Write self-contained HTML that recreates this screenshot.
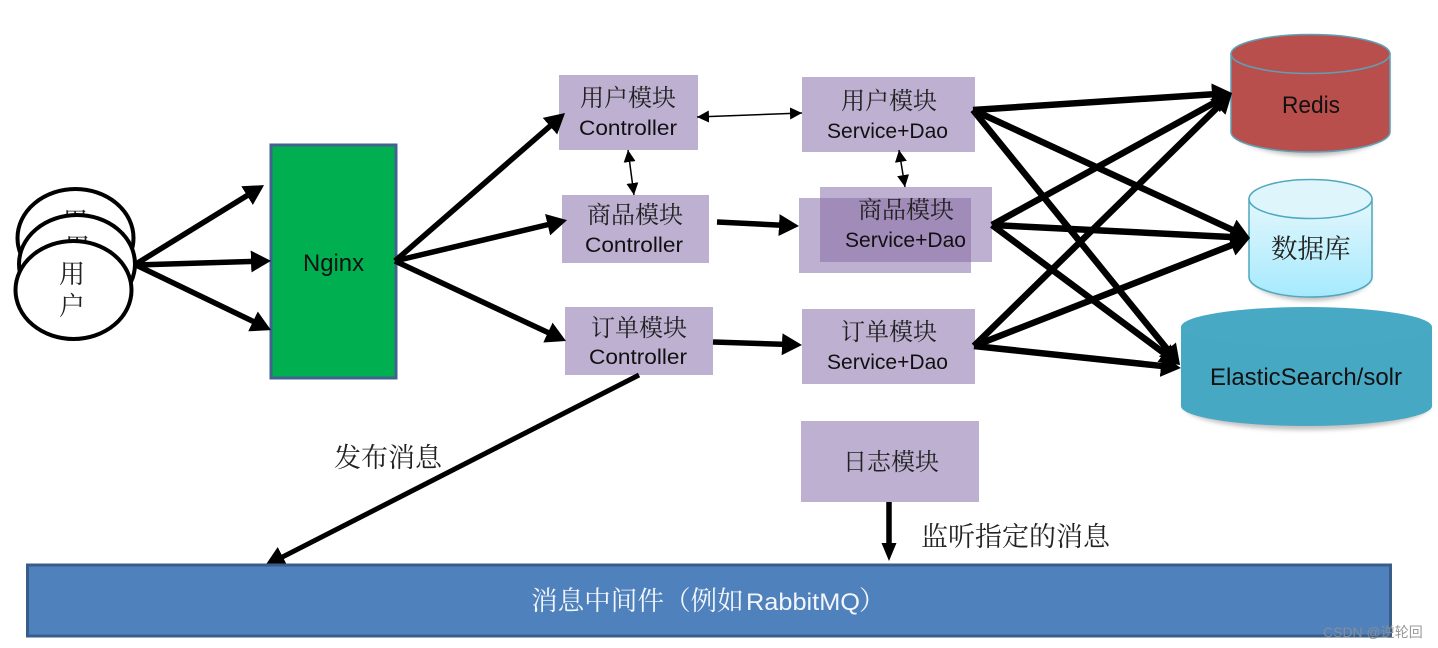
<!DOCTYPE html>
<html lang="zh"><head><meta charset="utf-8"><title>架构图</title>
<style>
html,body{margin:0;padding:0;background:#fff;width:1438px;height:648px;overflow:hidden}
svg{display:block}
.cn{font-family:"Liberation Serif","Noto Serif CJK SC",serif;fill:#222}
.la{font-family:"Liberation Sans",sans-serif;fill:#111}
</style></head><body>
<svg xmlns="http://www.w3.org/2000/svg" width="1438" height="648" viewBox="0 0 1438 648">
<defs>
<marker id="h" markerUnits="userSpaceOnUse" markerWidth="24" markerHeight="26" refX="3" refY="13" orient="auto"><path d="M0,2 L20,13 L0,24 z" fill="#000"/></marker>
<marker id="n" markerUnits="userSpaceOnUse" markerWidth="20" markerHeight="20" refX="1" refY="10" orient="auto"><path d="M0,2.500 L18,10 L0,17.500 z" fill="#000"/></marker>
<marker id="t" markerUnits="userSpaceOnUse" markerWidth="14" markerHeight="14" refX="12" refY="7" orient="auto-start-reverse"><path d="M0,1 L12,7 L0,13 z" fill="#000"/></marker>
<linearGradient id="db" x1="0" y1="0" x2="0" y2="1"><stop offset="0" stop-color="#e3f7fd"/><stop offset="1" stop-color="#a6eafd"/></linearGradient>
<filter id="s" x="-5%" y="-5%" width="110%" height="115%"><feGaussianBlur stdDeviation="2"/></filter>
</defs>

<!-- users -->
<g stroke="#000" stroke-width="4" fill="#fff">
<ellipse cx="75.500" cy="238" rx="58" ry="49"/>
<text x="62" y="231" class="cn" font-size="26" stroke="none">用</text>
<ellipse cx="77" cy="264" rx="58" ry="49"/>
<text x="64" y="257" class="cn" font-size="26" stroke="none">用</text>
<ellipse cx="73.500" cy="290" rx="58" ry="49"/>
</g>
<text x="59" y="283" class="cn" font-size="26">用</text>
<text x="59" y="315" class="cn" font-size="26">户</text>

<!-- nginx -->
<rect x="271" y="145" width="125" height="233" fill="#00b050" stroke="#41638f" stroke-width="3"/>
<text x="303" y="271" class="la" font-size="24" textLength="61" lengthAdjust="spacingAndGlyphs">Nginx</text>

<!-- boxes -->
<g fill="#bdb0d1">
<rect x="559" y="75" width="139" height="75"/>
<rect x="562" y="195" width="147" height="68"/>
<rect x="565" y="307" width="148" height="68"/>
<rect x="802" y="77" width="173" height="75"/>
<rect x="799" y="198" width="172" height="75"/>
<rect x="820" y="187" width="172" height="75"/>
<rect x="802" y="309" width="173" height="75"/>
<rect x="801" y="421" width="178" height="81"/>
</g>
<rect x="820" y="198" width="151" height="64" fill="#a18bb9"/>

<g class="cn" font-size="24">
<text x="580" y="106" class="cn">用户模块</text>
<text x="587" y="223" class="cn">商品模块</text>
<text x="591" y="336" class="cn">订单模块</text>
<text x="841" y="109" class="cn">用户模块</text>
<text x="858" y="218" class="cn">商品模块</text>
<text x="841" y="340" class="cn">订单模块</text>
<text x="843" y="470" class="cn">日志模块</text>
</g>
<g class="la" font-size="21">
<text x="579" y="135" class="la" textLength="98" lengthAdjust="spacingAndGlyphs">Controller</text>
<text x="585" y="252" class="la" textLength="98" lengthAdjust="spacingAndGlyphs">Controller</text>
<text x="589" y="364" class="la" textLength="98" lengthAdjust="spacingAndGlyphs">Controller</text>
<text x="827" y="138" class="la" textLength="121" lengthAdjust="spacingAndGlyphs">Service+Dao</text>
<text x="845" y="247" class="la" textLength="121" lengthAdjust="spacingAndGlyphs">Service+Dao</text>
<text x="827" y="369" class="la" textLength="121" lengthAdjust="spacingAndGlyphs">Service+Dao</text>
</g>

<!-- cylinders -->
<path d="M1233,60 V130 C1233,142 1268,156 1311,156 C1354,156 1389,142 1389,130 V60 z" fill="#999" opacity=".6" filter="url(#s)"/>
<path d="M1231,54 V132 C1231,143 1267,152 1310.500,152 C1354,152 1390,143 1390,132 V54 z" fill="#b94f4c" stroke="#5f9fb5" stroke-width="1.500"/>
<ellipse cx="1310.500" cy="54" rx="79.500" ry="19.500" fill="#b94f4c" stroke="#5f9fb5" stroke-width="1.500"/>
<text x="1282" y="113" class="la" font-size="24" textLength="58" lengthAdjust="spacingAndGlyphs">Redis</text>

<path d="M1251,205 V277 C1251,290 1280,301 1311,301 C1342,301 1371,290 1371,277 V205 z" fill="#999" opacity=".6" filter="url(#s)"/>
<path d="M1249,199 V277 C1249,288 1277,297 1310.500,297 C1344,297 1372,288 1372,277 V199 z" fill="url(#db)" stroke="#4fa8bd" stroke-width="1.500"/>
<ellipse cx="1310.500" cy="199" rx="61.500" ry="19.500" fill="#dff5fc" stroke="#4fa8bd" stroke-width="1.500"/>
<text x="1271" y="258" class="cn" font-size="26.500">数据库</text>

<path d="M1183,335 V405 C1183,420 1240,430 1306,430 C1372,430 1430,420 1430,405 V335 z" fill="#999" opacity=".6" filter="url(#s)"/>
<path d="M1181,327 V406 C1181,417 1237,426 1306.500,426 C1376,426 1432,417 1432,406 V327 z" fill="#47a8c4"/>
<ellipse cx="1306.500" cy="327" rx="125.500" ry="20" fill="#48a9c5"/>
<text x="1210" y="385" class="la" font-size="24" textLength="192" lengthAdjust="spacingAndGlyphs">ElasticSearch/solr</text>

<!-- thick arrows -->
<g stroke="#000" stroke-width="5.500" fill="none">
<line x1="136" y1="264" x2="249.600" y2="194" marker-end="url(#h)"/>
<line x1="136" y1="265" x2="254" y2="261.400" marker-end="url(#h)"/>
<line x1="136" y1="265" x2="255.700" y2="322.700" marker-end="url(#h)"/>
<line x1="395" y1="261" x2="552.200" y2="124.200" marker-end="url(#h)"/>
<line x1="395" y1="261" x2="550.500" y2="224" marker-end="url(#h)"/>
<line x1="395" y1="261" x2="550.600" y2="333.800" marker-end="url(#h)"/>
<line x1="717" y1="222" x2="782" y2="225.200" marker-end="url(#h)"/>
<line x1="713" y1="342" x2="785" y2="344.400" marker-end="url(#h)"/>
</g>
<g stroke="#000" stroke-width="6.500" fill="none">
<line x1="973" y1="110" x2="1215" y2="94.100" marker-end="url(#h)"/>
<line x1="973" y1="110" x2="1234.600" y2="230.900" marker-end="url(#h)"/>
<line x1="973" y1="110" x2="1169.300" y2="351.800" marker-end="url(#h)"/>
<line x1="992" y1="225" x2="1217.100" y2="101.200" marker-end="url(#h)"/>
<line x1="992" y1="225" x2="1233" y2="237.100" marker-end="url(#h)"/>
<line x1="992" y1="225" x2="1166.400" y2="354.900" marker-end="url(#h)"/>
<line x1="974" y1="346" x2="1219.900" y2="104.900" marker-end="url(#h)"/>
<line x1="974" y1="346" x2="1234.200" y2="244.200" marker-end="url(#h)"/>
<line x1="974" y1="346" x2="1164" y2="366.200" marker-end="url(#h)"/>
</g>
<line x1="639" y1="375" x2="280.100" y2="558.200" stroke="#000" stroke-width="5" marker-end="url(#h)"/>
<line x1="889" y1="502" x2="889" y2="544" stroke="#000" stroke-width="5.500" marker-end="url(#n)"/>

<!-- thin double arrows -->
<g stroke="#000" stroke-width="1.500" fill="none">
<line x1="697" y1="117" x2="802" y2="113" marker-start="url(#t)" marker-end="url(#t)"/>
<line x1="628" y1="150" x2="634" y2="195" marker-start="url(#t)" marker-end="url(#t)"/>
<line x1="899" y1="150" x2="905" y2="187" marker-start="url(#t)" marker-end="url(#t)"/>
</g>

<!-- labels -->
<text x="334" y="467" class="cn" font-size="27">发布消息</text>
<text x="921" y="546" class="cn" font-size="27">监听指定的消息</text>

<!-- message bar -->
<rect x="27.500" y="565" width="1363" height="71" fill="#4f81bd" stroke="#385d8a" stroke-width="3"/>
<text x="531" y="610" font-size="26.600" font-family="'Liberation Serif','Noto Serif CJK SC',serif" fill="#f2f5fa">消息中间件（例如</text>
<text x="746" y="610" font-size="24" font-family="'Liberation Sans',sans-serif" fill="#f2f5fa" textLength="114" lengthAdjust="spacingAndGlyphs">RabbitMQ</text>
<text x="859" y="610" font-size="26.600" font-family="'Liberation Serif','Noto Serif CJK SC',serif" fill="#f2f5fa">）</text>

<!-- watermark -->
<text x="1323" y="637" font-size="14" font-family="'Liberation Sans','Noto Sans CJK SC',sans-serif" fill="#8f8f8f" fill-opacity=".9">CSDN @逆轮回</text>
</svg>
</body></html>
